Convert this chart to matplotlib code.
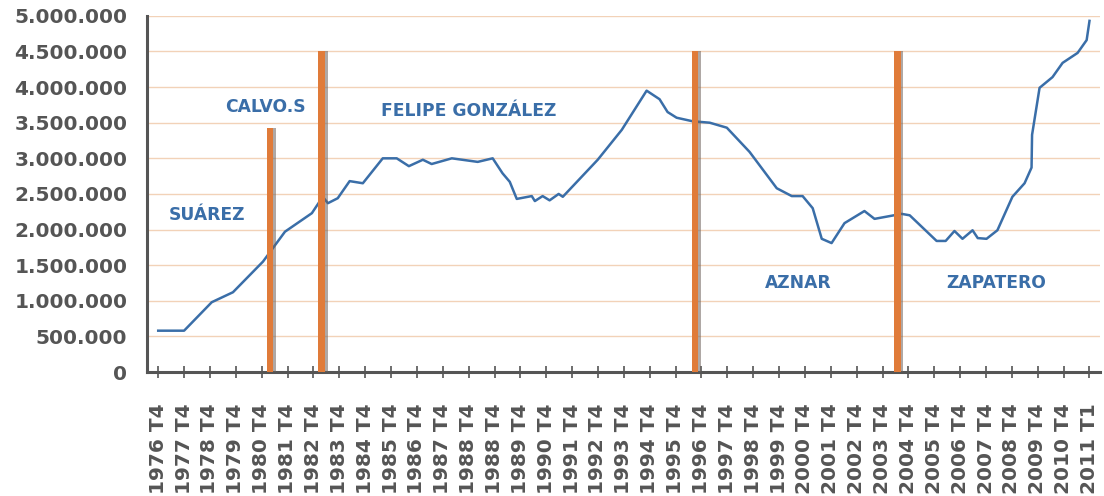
import matplotlib
matplotlib.use('Agg')
import matplotlib.pyplot as plt
from matplotlib.ticker import FuncFormatter

# tick labels (one per year, 1988 T4 appears twice in the source)
years = list(range(1976, 1989)) + list(range(1988, 2011))
labels = ['%d T4' % y for y in years] + ['2011 T1']

# line vertices: position in tick units, value
pos = [0.0, 1.0, 2.07, 2.89, 4.05, 4.9, 5.94, 6.36, 6.56, 6.94, 7.4, 7.91,
       8.68, 9.22, 9.69, 10.23, 10.57, 11.35, 12.35, 12.93, 13.31, 13.59,
       13.86, 14.44, 14.56, 14.86, 15.13, 15.48, 15.64, 16.99, 17.92, 18.88,
       19.38, 19.69, 20.04, 20.66, 21.32, 21.98, 22.86, 23.91, 24.49, 24.91,
       25.3, 25.65, 26.03, 26.53, 27.3, 27.69, 28.74, 29.05, 30.09, 30.44,
       30.78, 31.09, 31.48, 31.68, 32.02, 32.44, 33.02, 33.49, 33.76, 33.78,
       34.07, 34.57, 34.96, 35.54, 35.89, 36.0]
paro = [580000, 580000, 980000, 1120000, 1550000, 1970000, 2230000, 2460000,
        2370000, 2440000, 2680000, 2650000, 3000000, 3000000, 2890000,
        2980000, 2920000, 3000000, 2950000, 3000000, 2790000, 2670000,
        2430000, 2470000, 2400000, 2470000, 2410000, 2500000, 2460000,
        2980000, 3400000, 3950000, 3830000, 3650000, 3570000, 3520000,
        3500000, 3430000, 3090000, 2580000, 2470000, 2470000, 2300000,
        1870000, 1810000, 2090000, 2260000, 2150000, 2220000, 2200000,
        1840000, 1840000, 1980000, 1870000, 1990000, 1880000, 1870000,
        1990000, 2460000, 2650000, 2870000, 3330000, 3990000, 4140000,
        4340000, 4480000, 4660000, 4930000]

# change of government markers
cambio_pos = [4.32, 6.32, 20.74, 28.58]
cambio_h = [3420000, 4500000, 4500000, 4500000]

presidentes = ['SUÁREZ', 'CALVO.S', 'FELIPE GONZÁLEZ', 'AZNAR', 'ZAPATERO']
pres_x = [1.88, 4.16, 12.0, 24.76, 32.4]
pres_y = [2200000, 3720000, 3670000, 1250000, 1250000]

fig = plt.figure(figsize=(11.04, 4.96), dpi=100)
ax = fig.add_axes([0.133, 0.25, 0.863, 0.718])

ax.plot(pos, paro, color='#3A6EA8', lw=1.8, zorder=3)
ax.bar([p + 0.09 for p in cambio_pos], cambio_h, width=0.28, color='#6d625c',
       alpha=0.55, zorder=4)
ax.bar(cambio_pos, cambio_h, width=0.25, color='#E07B39', zorder=5)

for t, x, y in zip(presidentes, pres_x, pres_y):
    ax.text(x, y, t, color='#3A6EA8', fontsize=12.3, fontweight='bold',
            ha='center', va='center', zorder=6)

ax.set_xlim(-0.44, 36.39)
ax.set_ylim(0, 5000000)
ax.set_yticks(range(0, 5000001, 500000))
ax.yaxis.set_major_formatter(
    FuncFormatter(lambda v, p: '{:,.0f}'.format(v).replace(',', '.')))
ax.set_xticks(range(len(labels)))
ax.set_xticklabels(labels, rotation=90)

ax.grid(axis='y', color='#F2D2B8', lw=1.0, zorder=0)
ax.set_axisbelow(True)
for s in ['top', 'right']:
    ax.spines[s].set_visible(False)
for s in ['left', 'bottom']:
    ax.spines[s].set_color('#555555')
    ax.spines[s].set_linewidth(2.2)
ax.tick_params(axis='y', length=0, pad=14, labelsize=14.5, labelcolor='#555555')
ax.tick_params(axis='x', direction='inout', length=9, width=1.2,
               color='#555555', pad=18, labelsize=14.5, labelcolor='#555555')
for lab in ax.get_xticklabels() + ax.get_yticklabels():
    lab.set_fontweight('bold')

fig.savefig('out.png', dpi=100)
